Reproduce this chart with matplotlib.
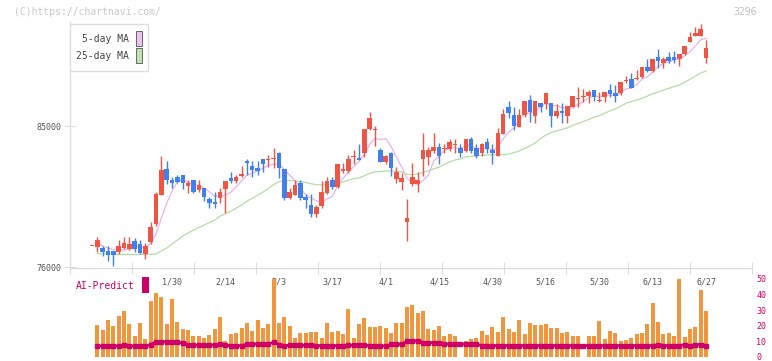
import numpy as np
import pandas as pd
import matplotlib
matplotlib.use("Agg")
import matplotlib.pyplot as plt
from matplotlib.patches import Rectangle

# daily candles, index 0..115 (last candle = 6/27)
opens = [77340, 77300, 77230, 77020, 77020, 76940, 77190, 77130, 77660, 77470,
         76810, 77610, 78730, 80620, 82260, 81550, 81730, 81870, 81170, 81550,
         80920, 81060, 80340, 80170, 80420, 80960, 81680, 81490, 81810, 82790,
         82450, 82300, 82890, 82850, 82870, 83300, 82260, 80420, 80600, 81380,
         80450, 79960, 79360, 79890, 80740, 81550, 81130, 82130, 82130, 83020,
         82940, 83300, 84810, 84740, 83470, 82720, 83300, 81620, 81440, 78890,
         81300, 81300, 82890, 83040, 83400, 83660, 83530, 83530, 83790, 83620,
         83420, 84150, 83620, 83260, 83960, 83470, 83100, 84470, 86190, 85700,
         84960, 85700, 86660, 85660, 86490, 86390, 86450, 85660, 85960, 85660,
         86230, 86720, 86870, 86920, 87300, 86610, 86870, 87300, 87130, 87110,
         87850, 88000, 87980, 88150, 88790, 88530, 89420, 89040, 89400, 89400,
         89260, 89580, 90380, 90760, 90760, 89360]
highs = [77340, 77930, 77360, 77360, 77020, 77720, 77930, 77930, 77870, 77720,
         77510, 78850, 80790, 83090, 82770, 81730, 81870, 81870, 81550, 81550,
         81550, 81060, 80490, 80810, 81020, 81490, 82080, 81870, 82450, 82890,
         82770, 82770, 82890, 83150, 83580, 83360, 82260, 81020, 81550, 81550,
         80660, 80660, 79960, 81490, 81730, 81730, 82580, 82620, 83150, 83470,
         83850, 84810, 85910, 85000, 83620, 83150, 83360, 82360, 82020, 80340,
         82620, 82080, 84570, 83680, 84570, 83900, 83850, 84190, 84190, 83850,
         84150, 84320, 83830, 83930, 84250, 83830, 84850, 86070, 86600, 86190,
         86070, 86600, 86980, 86600, 86490, 87130, 86450, 86390, 86450, 86280,
         86920, 87470, 87360, 87300, 87300, 87150, 87150, 87680, 87620, 87810,
         88190, 88380, 88580, 88790, 89280, 89280, 89920, 89420, 89740, 89790,
         89600, 90110, 91020, 91320, 91510, 90490]
lows = [77340, 76980, 76720, 76400, 76080, 76860, 77130, 77090, 76980, 76860,
        76490, 77450, 78620, 80620, 81300, 81020, 81340, 80960, 80740, 80700,
        80810, 80230, 79750, 79750, 80100, 79430, 81340, 81340, 81730, 81870,
        81730, 81870, 82080, 82400, 82300, 81700, 80280, 80320, 80600, 80280,
        79750, 79210, 79210, 79750, 80640, 80960, 81020, 82020, 82020, 82570,
        82830, 83040, 84740, 83720, 82720, 82560, 81810, 81340, 80920, 77680,
        81170, 80810, 81810, 82510, 83260, 82570, 83260, 83420, 83300, 83040,
        83360, 83260, 82940, 83090, 83300, 82560, 83100, 84470, 85490, 84740,
        84920, 85590, 85270, 85210, 85910, 86070, 84960, 85490, 85210, 85210,
        86190, 86190, 86550, 86450, 86600, 86510, 86550, 86870, 86550, 86980,
        87730, 87450, 87940, 88080, 88470, 88470, 88680, 88680, 89000, 89000,
        88850, 89530, 90380, 90760, 90760, 89040]
closes = [77340, 77720, 76980, 76770, 76770, 77340, 77510, 77470, 77170, 76910,
          77340, 78570, 80660, 82190, 81550, 81340, 81440, 81340, 81340, 80790,
          81230, 80490, 80100, 80020, 80790, 81490, 81490, 81760, 81940, 82620,
          82190, 82150, 82590, 82910, 82960, 82300, 80390, 80790, 81230, 80420,
          80280, 79360, 79830, 80770, 81490, 81130, 82580, 82260, 82890, 83090,
          82830, 84810, 85530, 84810, 82720, 83090, 82340, 82080, 81700, 79110,
          81760, 81550, 83470, 83470, 83660, 83100, 83580, 83980, 83830, 83260,
          84150, 83420, 83090, 83830, 83530, 83300, 84530, 85770, 85850, 85000,
          85700, 86600, 85910, 86600, 86190, 87130, 85660, 85960, 85850, 86280,
          86920, 86770, 86940, 87150, 86870, 86640, 87150, 87040, 86940, 87810,
          87890, 87450, 88080, 88790, 88530, 89280, 89170, 89280, 89170, 89210,
          89600, 90110, 90680, 90960, 91190, 90000]

# 25-day MA for the first days (needs closes from before the window)
ma25_head = [76850, 76840, 76830, 76820, 76810, 76800, 76800, 76790, 76790, 76800,
             76810, 76830, 77020, 77210, 77470, 77720, 77980, 78170, 78360, 78520,
             78680, 78840, 79000]

# AI-Predict panel (no value on the first day)
ai_bars = [np.nan, 20.5, 17.3, 23.7, 19.9, 26.3, 29.5, 21.2, 13.5, 22.0,
           11.5, 36.1, 41.2, 38.5, 21.2, 37.0, 22.4, 17.9, 17.3, 13.5,
           13.5, 12.2, 14.1, 17.9, 25.4, 10.0, 14.7, 15.4, 18.6, 22.0,
           16.7, 23.7, 18.6, 21.0, 50.0, 22.0, 25.6, 20.0, 12.0, 15.5,
           15.5, 16.0, 16.0, 12.5, 22.0, 16.0, 16.5, 15.0, 30.8, 12.0,
           21.0, 25.0, 19.0, 19.5, 19.9, 18.6, 15.4, 22.0, 22.0, 32.0,
           33.3, 28.4, 29.5, 18.0, 17.3, 19.9, 13.5, 14.7, 13.5, 0.0,
           10.3, 11.5, 12.2, 16.7, 14.1, 19.2, 16.0, 25.6, 18.0, 16.0,
           23.7, 14.7, 21.8, 20.5, 20.5, 21.2, 18.6, 18.6, 15.4, 16.0,
           13.5, 13.5, 0.0, 13.5, 13.5, 23.1, 11.5, 16.7, 15.4, 10.3,
           10.9, 12.2, 14.7, 15.4, 21.2, 34.8, 22.6, 15.0, 15.4, 13.5,
           50.0, 12.8, 18.0, 19.2, 43.0, 29.5]
ai_line = [np.nan, 7.0, 7.0, 7.0, 7.0, 7.0, 8.0, 7.0, 7.0, 7.0,
           7.0, 8.0, 9.8, 9.8, 9.8, 9.8, 9.5, 8.8, 8.0, 7.5,
           7.7, 7.7, 7.7, 7.7, 8.5, 7.5, 7.3, 7.3, 7.3, 8.3,
           8.3, 8.3, 8.3, 8.3, 9.5, 8.0, 7.3, 7.5, 7.5, 7.5,
           7.5, 7.5, 7.3, 7.3, 7.3, 7.3, 7.3, 7.3, 7.5, 7.5,
           7.5, 7.5, 7.3, 7.3, 7.1, 7.1, 8.1, 8.1, 8.1, 10.3,
           10.3, 10.3, 9.2, 9.2, 9.2, 9.2, 8.3, 8.3, 8.3, 8.3,
           8.3, 8.3, 8.3, 7.3, 7.3, 7.3, 7.3, 7.3, 7.3, 7.3,
           7.3, 7.3, 7.3, 7.3, 7.3, 7.3, 7.3, 7.3, 7.3, 7.3,
           7.3, 7.3, 7.3, 7.3, 7.3, 7.3, 7.3, 7.3, 7.3, 7.3,
           7.3, 7.3, 7.3, 7.3, 7.3, 7.3, 8.0, 7.3, 7.3, 7.3,
           7.3, 8.0, 7.3, 8.0, 8.0, 7.3]

date_labels = ["1/30", "2/14", "3/3", "3/17", "4/1", "4/15", "4/30", "5/16", "5/30", "6/13", "6/27"]
date_pos = [15, 25, 35, 45, 55, 65, 75, 85, 95, 105, 115]

UP = "#f05444"
DOWN = "#3f7ff0"
MONO = "DejaVu Sans Mono"

x = np.arange(len(closes))
o = np.array(opens, float)
c = np.array(closes, float)
h = np.array(highs, float)
l = np.array(lows, float)

close_s = pd.Series(c)
ma5 = close_s.rolling(5, min_periods=1).mean()
ma5[0] = np.nan
ma25 = close_s.rolling(25).mean()
ma25[1:24] = ma25_head

W, H = 772, 361
fig = plt.figure(figsize=(W / 100, H / 100), dpi=100)

xlim = (-4.12, 123.6)

# price panel
ax = fig.add_axes([70 / W, (H - 268) / H, 682 / W, 246 / H])
ax.set_xlim(*xlim)
ax.set_ylim(75937, 91639)

up = c >= o
cols = np.where(up, UP, DOWN)
ax.vlines(x, l, h, colors=cols, lw=1.0, zorder=3)
body = np.maximum(np.abs(c - o), 55)
ax.bar(x, body, bottom=np.minimum(o, c), width=0.85, color=cols, lw=0, zorder=4)

ax.plot(x, ma5, color="#e8b2ea", lw=0.9, zorder=2)
ax.plot(x, ma25, color="#b5dba6", lw=0.9, zorder=2)

for s in ["top", "right"]:
    ax.spines[s].set_visible(False)
for s in ["left", "bottom"]:
    ax.spines[s].set_color("#dddddd")
    ax.spines[s].set_linewidth(1)

ax.set_yticks([76000, 85000])
ax.set_yticklabels(["76000", "85000"], fontsize=6, color="#555555", family=MONO)
ax.tick_params(axis="y", direction="inout", length=8, color="#dddddd", pad=2)
ax.set_xticks(np.linspace(xlim[0], xlim[1], 12))
ax.tick_params(axis="x", direction="inout", length=8, color="#dddddd", labelbottom=False)

# date labels between the panels
for p, lab in zip(date_pos, date_labels):
    ax.text(p, -14 / 246, lab, transform=ax.get_xaxis_transform(), ha="center", va="center",
            fontsize=6, color="#555555", family=MONO, zorder=1)

# AI-Predict panel
ax2 = fig.add_axes([70 / W, 4 / H, 682 / W, 78 / H])
ax2.patch.set_alpha(0)
ax2.set_xlim(*xlim)
ax2.set_ylim(0, 50)
ax2.bar(x, ai_bars, width=0.75, color="#f0963f", lw=0, zorder=2)
ax2.plot(x, ai_line, color="#cc0066", lw=2.0, marker="s", ms=2.6, zorder=3)
for s in ax2.spines.values():
    s.set_visible(False)
ax2.set_xticks([])
ax2.yaxis.tick_right()
ax2.set_yticks([0, 10, 20, 30, 40, 50])
ax2.tick_params(axis="y", length=0, pad=3, labelsize=6, labelcolor="#cc0066")
for t in ax2.get_yticklabels():
    t.set_family(MONO)

fig.text(76 / W, 1 - 286 / H, "AI-Predict", color="#cc0066", fontsize=7, family=MONO, va="center")
fig.patches.append(Rectangle((142 / W, 1 - 293 / H), 7 / W, 16 / H, transform=fig.transFigure,
                             facecolor="#cc0066", edgecolor="none"))

# legend box
fig.patches.append(Rectangle((70 / W, 1 - 71 / H), 78 / W, 47 / H, transform=fig.transFigure,
                             facecolor="white", edgecolor="#dddddd", lw=1))
fig.text(129 / W, 1 - 39 / H, "5-day MA", ha="right", va="center", fontsize=7, color="#444444", family=MONO)
fig.text(129 / W, 1 - 56 / H, "25-day MA", ha="right", va="center", fontsize=7, color="#444444", family=MONO)
fig.patches.append(Rectangle((136 / W, 1 - 46 / H), 6 / W, 15 / H, transform=fig.transFigure,
                             facecolor="#f0c0f0", edgecolor="#666666", lw=0.7))
fig.patches.append(Rectangle((136 / W, 1 - 63 / H), 6 / W, 15 / H, transform=fig.transFigure,
                             facecolor="#c0e0b0", edgecolor="#666666", lw=0.7))

fig.text(14 / W, 1 - 12 / H, "(C)https://chartnavi.com/", fontsize=7, color="#c8c8c8", family=MONO, va="center")
fig.text(757 / W, 1 - 12 / H, "3296", fontsize=7, color="#c0c0c0", family=MONO, va="center", ha="right")

fig.savefig("out.png", dpi=100)
